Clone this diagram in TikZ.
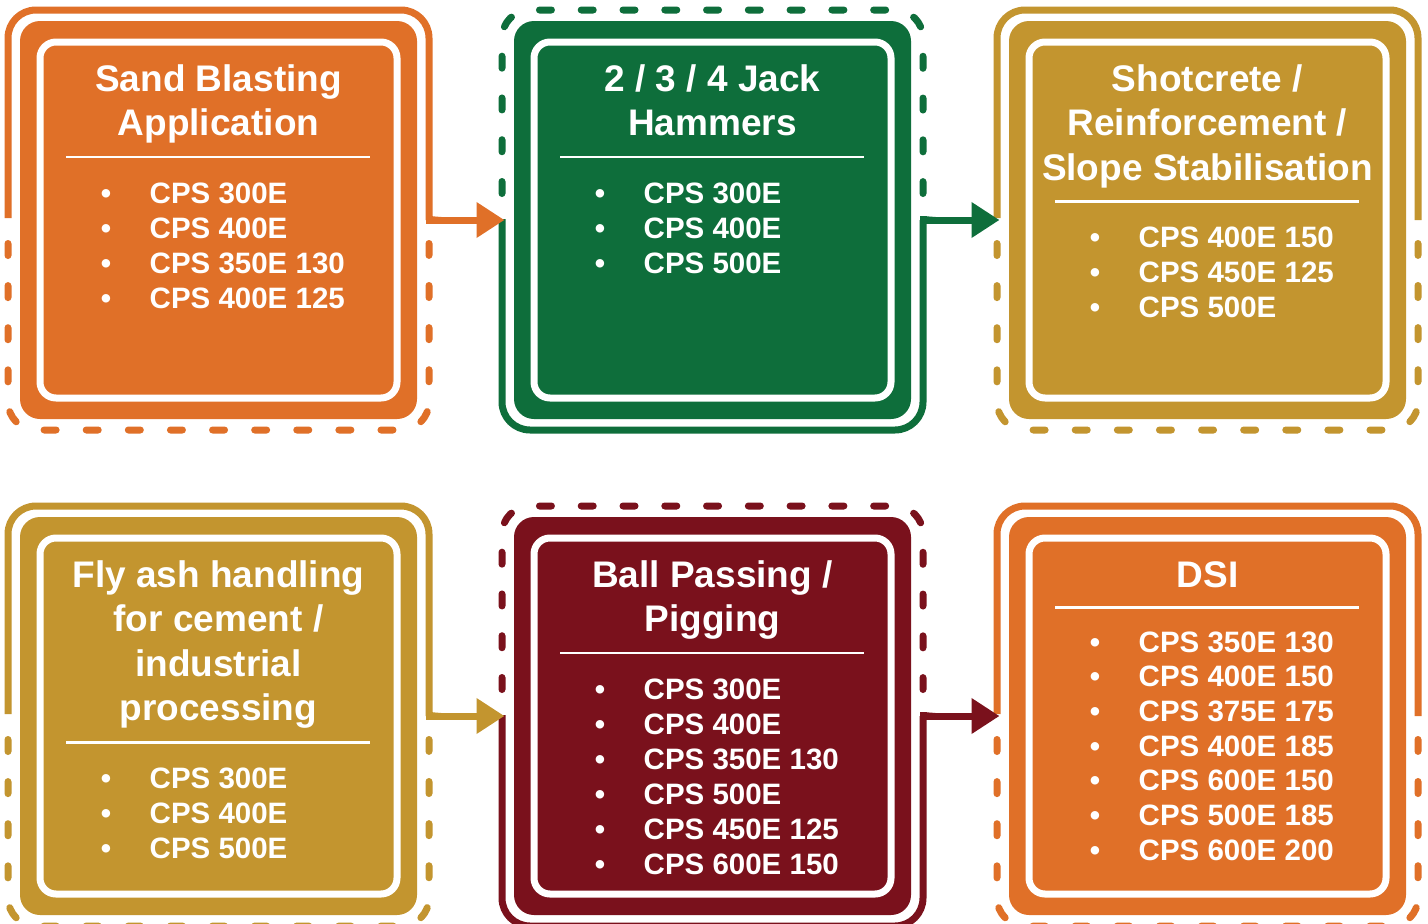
\documentclass[tikz,border=0pt]{standalone}
\usepackage{fontspec}
\setmainfont{Liberation Sans}
\usetikzlibrary{arrows.meta}
\definecolor{corange}{HTML}{E07028}
\definecolor{cgreen}{HTML}{0E6E3B}
\definecolor{cgold}{HTML}{C3952F}
\definecolor{cmaroon}{HTML}{7A111C}
\tikzset{
  frameline/.style={line width=7pt, line join=miter},
  dashframe/.style={line width=7pt, line cap=round, dash pattern=on 12pt off #1},
  innerline/.style={draw=white, line width=7pt, rounded corners=16pt},
  sepline/.style={draw=white, line width=2.5pt},
  titletext/.style={text=white, font=\fontsize{37}{44.5}\selectfont\bfseries, anchor=base, inner sep=0pt},
  itemtext/.style={text=white, font=\fontsize{29.5}{35}\selectfont\bfseries, anchor=base west, inner sep=0pt},
  bullettext/.style={text=white, font=\fontsize{29.5}{35}\selectfont\bfseries, anchor=base, inner sep=0pt},
  flow/.style={line width=7pt, line join=miter, -{Triangle[length=28pt,width=34pt]}},
}
% panel with solid upper half and dashed lower half
\newcommand{\panelA}[4]{%
\begin{scope}[shift={(#2,#3)}]
\fill[#4, rounded corners=20pt] (12,11) rectangle (409,409);
\draw[innerline] (32,32) rectangle (389,388);
\draw[frameline, draw=#4] (0,208) -- (0,28) arc[start angle=180,end angle=270,radius=28] -- (393,0) arc[start angle=270,end angle=360,radius=28] -- (421,210);
\draw[dashframe=30.109pt, draw=#4] (0,233.5) -- (0,392) arc[start angle=180,end angle=90,radius=28] -- (393,420) arc[start angle=90,end angle=0,radius=28] -- (421,233.5);
\coordinate (#1-in) at (2.5,210);
\coordinate (#1-out) at (421,210);
\end{scope}}
% panel with dashed upper half and solid lower half
\newcommand{\panelB}[4]{%
\begin{scope}[shift={(#2,#3)}]
\fill[#4, rounded corners=20pt] (12,11) rectangle (409,409);
\draw[innerline] (32,32) rectangle (389,388);
\draw[dashframe=29.776pt, draw=#4] (0,183.5) -- (0,28) arc[start angle=180,end angle=270,radius=28] -- (393,0) arc[start angle=270,end angle=360,radius=28] -- (421,183.5);
\draw[frameline, draw=#4] (0,209) -- (0,392) arc[start angle=180,end angle=90,radius=28] -- (393,420) arc[start angle=90,end angle=0,radius=28] -- (421,210);
\coordinate (#1-in) at (2.5,210);
\coordinate (#1-out) at (421,210);
\end{scope}}
\newcommand{\listitem}[3]{%
\node[bullettext] (#1-b) at (98,#2) {•};
\node[itemtext] (#1) at (141.5,#2) {#3};}
\newcommand{\septo}[1]{\draw[sepline] (58,#1) -- (362,#1);}
\begin{document}
\begin{tikzpicture}[x=1pt,y=-1pt]
\useasboundingbox (0,0) rectangle (1428,924);
\fill[white] (0,0) rectangle (1428,924);

\panelA{p1}{8}{10}{corange}
\panelB{p2}{502}{10}{cgreen}
\panelA{p3}{997}{10}{cgold}
\panelA{p4}{8}{506}{cgold}
\panelB{p5}{502}{506}{cmaroon}
\panelA{p6}{997}{506}{corange}

% connectors
\draw[flow, draw=corange, fill=corange] ([yshift=4pt]p1-out) |- (p2-in);
\draw[flow, draw=cgreen, fill=cgreen] ([yshift=4pt]p2-out) |- (p3-in);
\draw[flow, draw=cgold, fill=cgold] ([yshift=4pt]p4-out) |- (p5-in);
\draw[flow, draw=cmaroon, fill=cmaroon] ([yshift=4pt]p5-out) |- (p6-in);

% panel 1 texts
\begin{scope}[shift={(8,10)}]
\node[titletext] (p1-t1) at (210.5,81) {Sand Blasting};
\node[titletext] (p1-t2) at (210.5,125.5) {Application};
\septo{147}
\listitem{p1-i1}{193}{CPS 300E}
\listitem{p1-i2}{228}{CPS 400E}
\listitem{p1-i3}{263}{CPS 350E 130}
\listitem{p1-i4}{298}{CPS 400E 125}
\end{scope}

% panel 2 texts
\begin{scope}[shift={(502,10)}]
\node[titletext] (p2-t1) at (210.5,81) {2 / 3 / 4 Jack};
\node[titletext] (p2-t2) at (210.5,125.5) {Hammers};
\septo{147}
\listitem{p2-i1}{193}{CPS 300E}
\listitem{p2-i2}{228}{CPS 400E}
\listitem{p2-i3}{263}{CPS 500E}
\end{scope}

% panel 3 texts
\begin{scope}[shift={(997,10)}]
\node[titletext] (p3-t1) at (210.5,81) {Shotcrete /};
\node[titletext] (p3-t2) at (210.5,125.5) {Reinforcement /};
\node[titletext] (p3-t3) at (210.5,170) {Slope Stabilisation};
\septo{191.5}
\listitem{p3-i1}{237}{CPS 400E 150}
\listitem{p3-i2}{272}{CPS 450E 125}
\listitem{p3-i3}{307}{CPS 500E}
\end{scope}

% panel 4 texts
\begin{scope}[shift={(8,506)}]
\node[titletext] (p4-t1) at (210.5,81) {Fly ash handling};
\node[titletext] (p4-t2) at (210.5,125.5) {for cement /};
\node[titletext] (p4-t3) at (210.5,170) {industrial};
\node[titletext] (p4-t4) at (210.5,214.5) {processing};
\septo{236.5}
\listitem{p4-i1}{282}{CPS 300E}
\listitem{p4-i2}{317}{CPS 400E}
\listitem{p4-i3}{352}{CPS 500E}
\end{scope}

% panel 5 texts
\begin{scope}[shift={(502,506)}]
\node[titletext] (p5-t1) at (210.5,81) {Ball Passing /};
\node[titletext] (p5-t2) at (210.5,125.5) {Pigging};
\septo{147}
\listitem{p5-i1}{193}{CPS 300E}
\listitem{p5-i2}{228}{CPS 400E}
\listitem{p5-i3}{263}{CPS 350E 130}
\listitem{p5-i4}{298}{CPS 500E}
\listitem{p5-i5}{333}{CPS 450E 125}
\listitem{p5-i6}{368}{CPS 600E 150}
\end{scope}

% panel 6 texts
\begin{scope}[shift={(997,506)}]
\node[titletext] (p6-t1) at (210.5,81) {DSI};
\septo{101.5}
\listitem{p6-i1}{146}{CPS 350E 130}
\listitem{p6-i2}{180.7}{CPS 400E 150}
\listitem{p6-i3}{215.4}{CPS 375E 175}
\listitem{p6-i4}{250.1}{CPS 400E 185}
\listitem{p6-i5}{284.8}{CPS 600E 150}
\listitem{p6-i6}{319.5}{CPS 500E 185}
\listitem{p6-i7}{354.2}{CPS 600E 200}
\end{scope}
\end{tikzpicture}
\end{document}
